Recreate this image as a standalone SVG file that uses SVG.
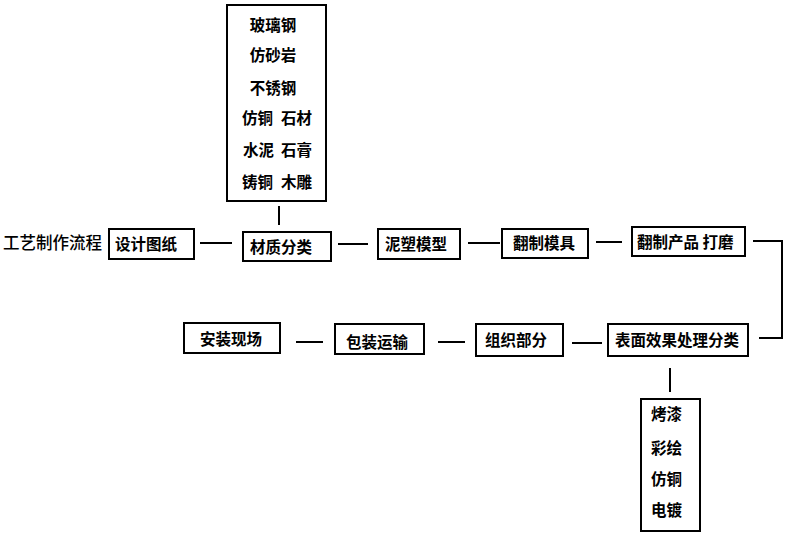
<svg xmlns="http://www.w3.org/2000/svg" width="793" height="549" viewBox="0 0 793 549">
<style>
.box{fill:#fff;stroke:#000;stroke-width:2}
.t{font-family:"Noto Sans CJK SC","Noto Sans",sans-serif;font-size:15.5px;font-weight:bold;fill:#000}
.title{font-family:"Noto Sans CJK SC","Noto Sans",sans-serif;font-size:16.5px;font-weight:500;fill:#000}
.c{fill:none;stroke:#000;stroke-width:2}
</style>
<rect width="793" height="549" fill="#fff"/>
<text class="title" x="3" y="249">工艺制作流程</text>
<g id="connectors">
<line class="c" x1="200" y1="243" x2="232" y2="243"/>
<line class="c" x1="279" y1="206" x2="279" y2="225"/>
<line class="c" x1="338" y1="244" x2="368" y2="244"/>
<line class="c" x1="468" y1="243" x2="500" y2="243"/>
<line class="c" x1="596" y1="242" x2="622" y2="242"/>
<polyline class="c" points="753,241 782,241 782,338 759,338"/>
<line class="c" x1="572" y1="343" x2="602" y2="343"/>
<line class="c" x1="438" y1="342" x2="465" y2="342"/>
<line class="c" x1="296" y1="342" x2="323" y2="342"/>
<line class="c" x1="670" y1="368" x2="670" y2="392"/>
</g>
<g id="materials">
<rect class="box" x="227" y="5" width="99" height="196"/>
<text class="t" x="273" y="31" text-anchor="middle">玻璃钢</text>
<text class="t" x="273" y="61" text-anchor="middle">仿砂岩</text>
<text class="t" x="273" y="94" text-anchor="middle">不锈钢</text>
<text class="t" x="242" y="124">仿铜</text>
<text class="t" x="281" y="124">石材</text>
<text class="t" x="243" y="156">水泥</text>
<text class="t" x="281" y="156">石膏</text>
<text class="t" x="242" y="188">铸铜</text>
<text class="t" x="281" y="188">木雕</text>
</g>
<g id="design">
<rect class="box" x="109" y="229" width="85" height="30"/>
<text class="t" x="115" y="249.5">设计图纸</text>
</g>
<g id="classify">
<rect class="box" x="243" y="232" width="88" height="29"/>
<text class="t" x="250" y="253">材质分类</text>
</g>
<g id="clay">
<rect class="box" x="378" y="229" width="82" height="30"/>
<text class="t" x="385" y="249.5">泥塑模型</text>
</g>
<g id="mold">
<rect class="box" x="502" y="229" width="86" height="29"/>
<text class="t" x="513" y="249">翻制模具</text>
</g>
<g id="product">
<rect class="box" x="632" y="227" width="113" height="29"/>
<text class="t" x="637" y="248">翻制产品 打磨</text>
</g>
<g id="surface">
<rect class="box" x="608" y="324" width="140" height="32"/>
<text class="t" x="615" y="346">表面效果处理分类</text>
</g>
<g id="assemble">
<rect class="box" x="476" y="324" width="87" height="32"/>
<text class="t" x="485" y="346">组织部分</text>
</g>
<g id="transport">
<rect class="box" x="335" y="324" width="89" height="30"/>
<text class="t" x="346" y="347.5">包装运输</text>
</g>
<g id="install">
<rect class="box" x="184" y="323" width="96" height="30"/>
<text class="t" x="200" y="344.5">安装现场</text>
</g>
<g id="finishes">
<rect class="box" x="641" y="399" width="59" height="132"/>
<text class="t" x="651" y="420">烤漆</text>
<text class="t" x="651" y="454">彩绘</text>
<text class="t" x="651" y="485">仿铜</text>
<text class="t" x="651" y="516">电镀</text>
</g>
</svg>
